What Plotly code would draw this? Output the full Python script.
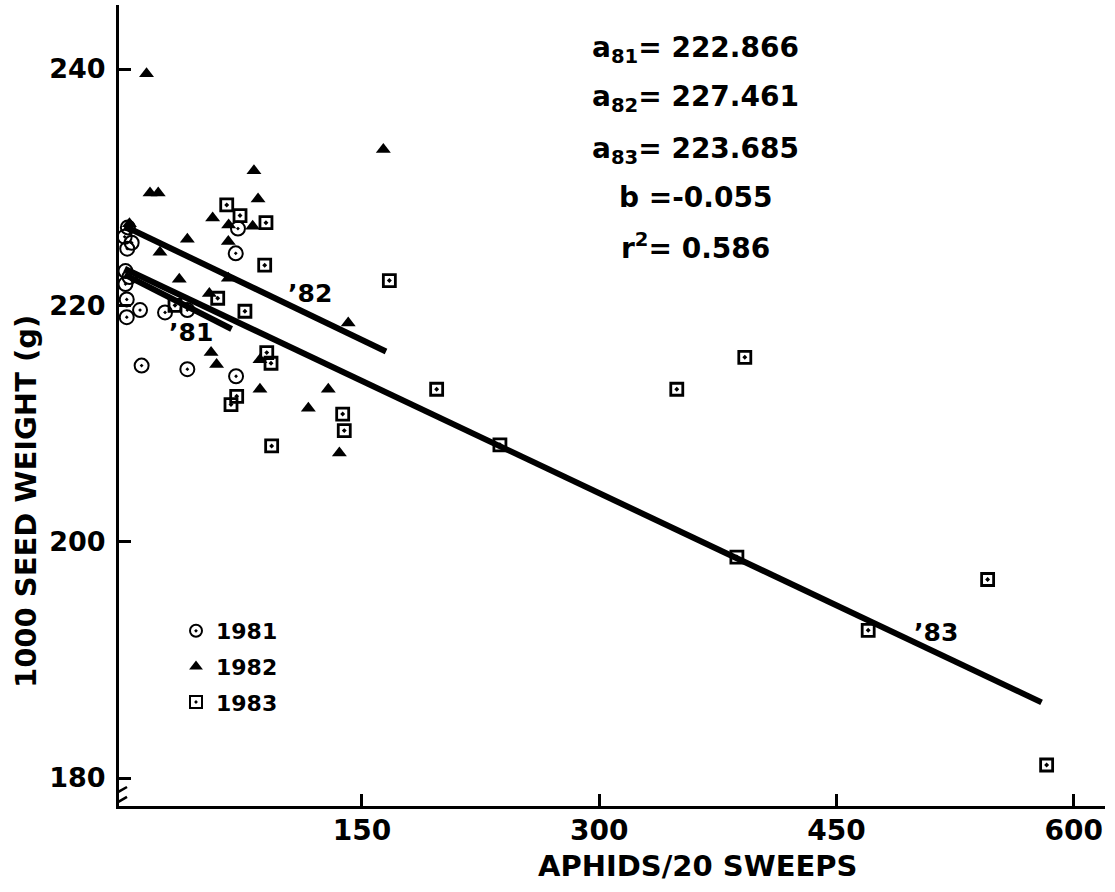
import plotly.graph_objects as go

# ---- data ----
x81 = [0, 4.4, 1.6, 2.0, 0.5, 3.0, 0.5, 1.3, 1.3, 9.7, 25.5, 39.6, 70.2, 71.6, 10.7, 39.6, 70.4]
y81 = [225.8, 225.3, 224.8, 226.6, 222.9, 222.4, 221.8, 220.5, 219.0, 219.6, 219.4, 219.6, 224.4, 226.5, 214.9, 214.6, 214.0]

x82 = [13.8, 163.5, 81.7, 16.0, 21.2, 84.3, 55.6, 65.7, 80.9, 39.6, 65.5, 22.3, 34.5, 53.5,
       141.3, 54.6, 58.1, 85.5, 85.5, 128.7, 116.1, 135.7, 3.0, 65.5]
y82 = [239.6, 233.2, 231.4, 229.5, 229.5, 229.0, 227.4, 226.8, 226.7, 225.6, 225.4, 224.5, 222.2, 221.0,
       218.5, 216.0, 215.0, 215.4, 212.9, 212.9, 211.3, 207.5, 226.9, 222.3]

x83 = [64.5, 72.9, 89.3, 88.5, 167.3, 58.8, 76.0, 31.8, 89.8, 92.5, 70.8, 67.2, 137.8, 138.8,
       92.9, 197.2, 349.0, 392.0, 237.2, 387.0, 470.0, 545.5, 582.8]
y83 = [228.5, 227.6, 227.0, 223.4, 222.1, 220.6, 219.5, 220.0, 216.0, 215.1, 212.3, 211.6, 210.8, 209.4,
       208.1, 212.9, 212.9, 215.6, 208.2, 198.7, 192.5, 196.8, 181.1]

# regression line end points (as drawn)
line81_x = [0, 67.6]
line81_y = [222.6, 218.0]
line82_x = [0, 165.2]
line82_y = [226.7, 216.1]
line83_x = [0, 579.6]
line83_y = [223.1, 186.4]

x_ticks = [150, 300, 450, 600]
y_ticks = [180, 200, 220, 240]

stats_lines = ["a<sub>81</sub>= 222.866", "a<sub>82</sub>= 227.461", "a<sub>83</sub>= 223.685",
               "b =-0.055", "r<sup>2</sup>= 0.586"]

FONT = "DejaVu Sans"

fig = go.Figure()
for lx, ly in [(line81_x, line81_y), (line82_x, line82_y), (line83_x, line83_y)]:
    fig.add_trace(go.Scatter(x=lx, y=ly, mode="lines", line=dict(color="black", width=6),
                             showlegend=False, hoverinfo="skip"))

fig.add_trace(go.Scatter(x=x81, y=y81, mode="markers", name="1981", legendgroup="g81",
                         marker=dict(symbol="circle-open-dot", size=14, color="black", line=dict(width=2))))
fig.add_trace(go.Scatter(x=x82, y=y82, mode="markers", name="1982", legendgroup="g82",
                         marker=dict(symbol="triangle-up", size=13, color="black", line=dict(width=0))))
fig.add_trace(go.Scatter(x=x83, y=y83, mode="markers", name="1983", legendgroup="g83",
                         marker=dict(symbol="square-open-dot", size=12, color="black", line=dict(width=2.8))))

W, H = 1115, 892
L, R, T, B = 119, 10, 5, 86
pw, ph = W - L - R, H - T - B

def px(x):
    return (x - L) / pw

def py(y):
    return (H - B - y) / ph

annos = []
ys = [49, 99, 150, 197, 247]
for txt, yy in zip(stats_lines, ys):
    annos.append(dict(text=txt, x=px(695), y=py(yy), xref="paper", yref="paper", showarrow=False,
                      xanchor="center", yanchor="middle", font=dict(size=28, family=FONT, color="black", weight="bold")))

annos.append(dict(text="’82", x=117, y=221.0, xref="x", yref="y", showarrow=False,
                  font=dict(size=25, family=FONT, color="black", weight="bold")))
annos.append(dict(text="’81", x=42.2, y=217.7, xref="x", yref="y", showarrow=False,
                  font=dict(size=25, family=FONT, color="black", weight="bold")))
annos.append(dict(text="’83", x=512.8, y=192.3, xref="x", yref="y", showarrow=False,
                  font=dict(size=25, family=FONT, color="black", weight="bold")))

annos.append(dict(text="APHIDS/20 SWEEPS", x=px(697), y=py(866), xref="paper", yref="paper", showarrow=False,
                  xanchor="center", yanchor="middle", font=dict(size=29, family=FONT, color="black", weight="bold")))
annos.append(dict(text="1000 SEED WEIGHT (g)", x=px(26), y=py(502), xref="paper", yref="paper", showarrow=False,
                  textangle=-90, xanchor="center", yanchor="middle",
                  font=dict(size=29, family=FONT, color="black", weight="bold")))

shapes = [
    dict(type="line", xref="x", yref="y", x0=-7.4, y0=178.56, x1=1.45, y1=179.24, line=dict(color="black", width=2.5)),
    dict(type="line", xref="x", yref="y", x0=-7.4, y0=177.72, x1=1.45, y1=178.4, line=dict(color="black", width=2.5)),
]

fig.update_layout(
    width=W, height=H,
    margin=dict(l=L, r=R, t=T, b=B),
    paper_bgcolor="white", plot_bgcolor="white",
    font=dict(family=FONT, color="black", size=24, weight="bold"),
    xaxis=dict(range=[-3.6, 619.7], showgrid=False, zeroline=False, showline=True, linecolor="black",
               linewidth=3, ticks="inside", ticklen=12, tickwidth=2.5, tickcolor="black",
               tickvals=x_ticks, ticktext=[str(v) for v in x_ticks],
               tickfont=dict(size=28, family=FONT, color="black", weight="bold"), ticklabelstandoff=-3),
    yaxis=dict(range=[177.63, 245.42], showgrid=False, zeroline=False, showline=True, linecolor="black",
               linewidth=3, ticks="inside", ticklen=12, tickwidth=2.5, tickcolor="black",
               tickvals=y_ticks, ticktext=[str(v) for v in y_ticks],
               tickfont=dict(size=27, family=FONT, color="black", weight="bold"), ticklabelstandoff=5),
    legend=dict(x=px(176), y=py(610), xanchor="left", yanchor="top", bgcolor="rgba(0,0,0,0)",
                font=dict(size=22, family=FONT, color="black", weight="bold"), itemsizing="constant",
                tracegroupgap=4),
    annotations=annos,
    shapes=shapes,
    showlegend=True,
)

fig.write_html("out.html", config={"displayModeBar": False},
               post_script="document.body.style.margin='0';")
